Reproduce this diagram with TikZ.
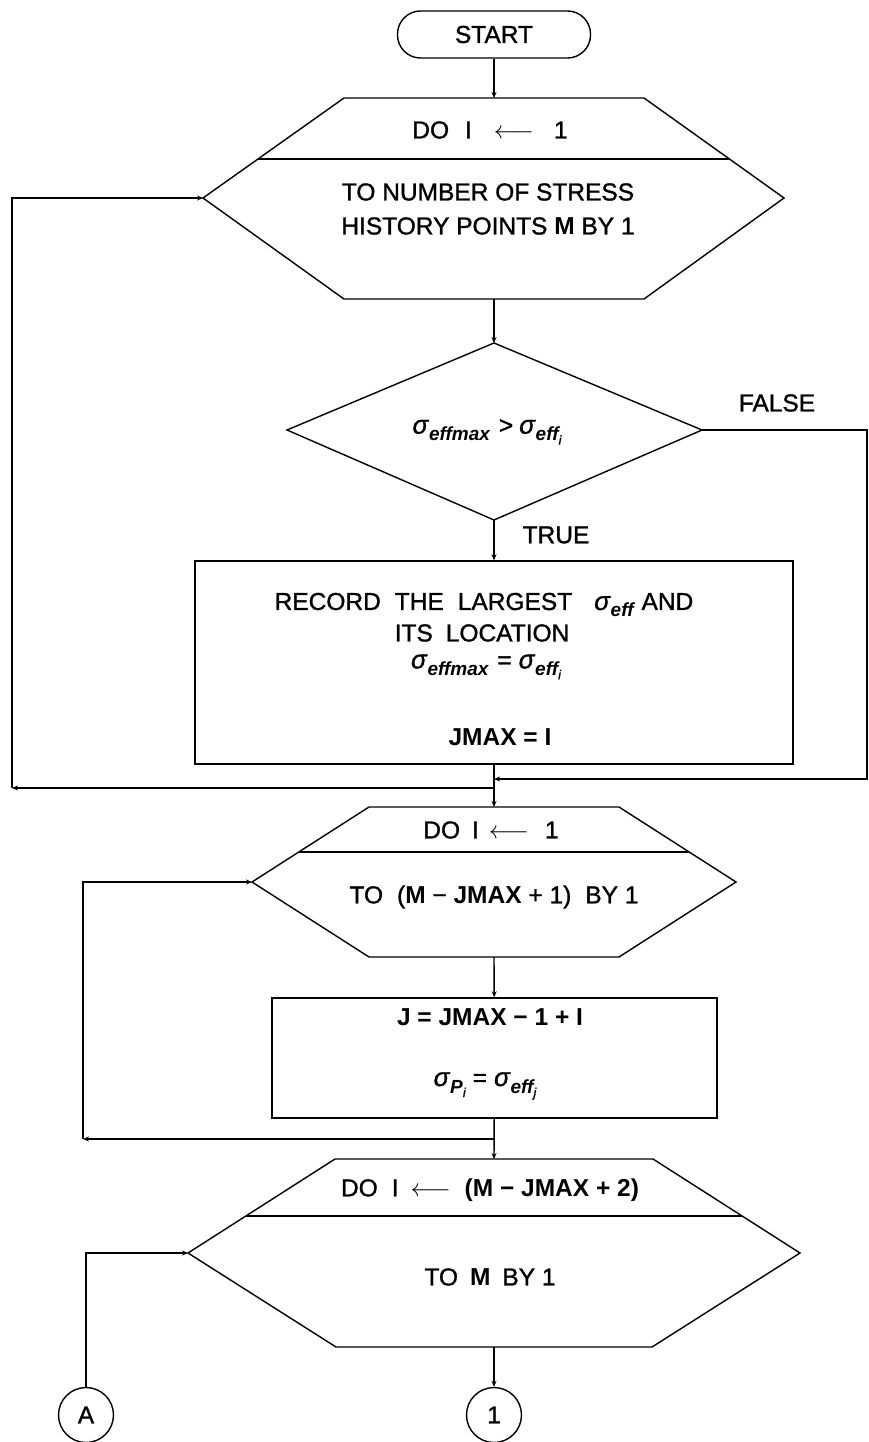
\documentclass[tikz,border=0pt]{standalone}
\usepackage{fontspec}
\setmainfont{Liberation Sans}[UprightFeatures={FakeBold=1.2},ItalicFeatures={FakeBold=1.2}]
\usetikzlibrary{arrows.meta,calc}
\newcommand\sig[1]{{\fontsize{26}{30}\selectfont\textit{σ}}\raisebox{-7pt}{\fontsize{19}{20}\selectfont\bfseries\itshape #1}}
\newcommand\sigi[2]{{\fontsize{26}{30}\selectfont\textit{σ}}\raisebox{-7pt}{\fontsize{19}{20}\selectfont\bfseries\itshape #1\raisebox{-4pt}{\fontsize{13}{13}\selectfont\mdseries #2}}}
\begin{document}
\begin{tikzpicture}[x=1pt,y=-1pt,line width=1.4pt,
  arr/.style={-{Stealth[length=6pt,width=5pt]}},
  lbl/.style={font=\fontsize{24.5}{34}\selectfont,inner sep=0pt,align=center},
  term/.style={draw,rounded corners=23pt,minimum width=193pt,minimum height=47pt,inner sep=0pt},
  procbox/.style={draw,inner sep=0pt},
  conn/.style={draw,circle,minimum size=55pt,inner sep=0pt,font=\fontsize{24.5}{29}\selectfont}]
\useasboundingbox (0,0) rectangle (868,1442);

% terminal
\node[term,lbl] (start) at (494,34.5) {START};

% loop hexagon 1
\coordinate (h1tl) at (344,98);  \coordinate (h1tr) at (644,98);
\coordinate (h1l) at (203,198);  \coordinate (h1r) at (784,198);
\coordinate (h1bl) at (344,299); \coordinate (h1br) at (644,299);
\coordinate (h1t) at (494,98);   \coordinate (h1b) at (494,299);
\draw (h1tl) -- (h1tr) -- (h1r) -- (h1br) -- (h1bl) -- (h1l) -- cycle;
\draw ($(h1tl)!0.61!(h1l)$) -- ($(h1tr)!0.61!(h1r)$);
\node[lbl] (t1a) at (490,130) {DO\hspace{16pt}I\hspace{22pt}$\longleftarrow$\hspace{20pt}1};
\node[lbl] (t1b) at (488,209) {TO NUMBER OF STRESS\\HISTORY POINTS \textbf{M} BY 1};

% decision
\coordinate (dt) at (494,343); \coordinate (dl) at (287,430);
\coordinate (dr) at (702,430); \coordinate (db) at (494,520);
\draw (dt) -- (dr) -- (db) -- (dl) -- cycle;
\node[lbl] (dtx) at (487,432) {\sig{effmax}\hspace{9pt}>\hspace{6pt}\sigi{eff}{i}};
\node[lbl] (lfalse) at (777,403) {FALSE};
\node[lbl] (ltrue) at (556,535) {TRUE};

% box 1
\node[procbox,minimum width=598pt,minimum height=203pt] (b1) at (494,662.5) {};
\node[lbl] (r1) at (484,605) {RECORD\hspace{14pt}THE\hspace{14pt}LARGEST\hspace{22pt}\sig{eff}\hspace{8pt}AND};
\node[lbl] (r2) at (482,633) {ITS\hspace{13pt}LOCATION};
\node[lbl] (r3) at (486,667) {\sig{effmax}\hspace{9pt}=\hspace{7pt}\sigi{eff}{i}};
\node[lbl] (r4) at (500,737) {\textbf{JMAX = I}};

% loop hexagon 2
\coordinate (h2tl) at (369,807);  \coordinate (h2tr) at (619,807);
\coordinate (h2l) at (252,882);   \coordinate (h2r) at (736,882);
\coordinate (h2bl) at (369,957);  \coordinate (h2br) at (619,957);
\coordinate (h2t) at (494,807);   \coordinate (h2b) at (494,957);
\draw (h2tl) -- (h2tr) -- (h2r) -- (h2br) -- (h2bl) -- (h2l) -- cycle;
\draw ($(h2tl)!0.6!(h2l)$) -- ($(h2tr)!0.6!(h2r)$);
\node[lbl] (t2a) at (491,830) {DO\hspace{12pt}I\hspace{10pt}$\longleftarrow$\hspace{16pt}1};
\node[lbl] (t2b) at (494,897) {TO\hspace{14pt}(\textbf{M} − \textbf{JMAX} + 1)\hspace{14pt}BY 1};

% box 2
\node[procbox,minimum width=445pt,minimum height=120pt] (b2) at (494.5,1058) {};
\node[lbl] (b2a) at (490,1017) {\textbf{J = JMAX − 1 + I}};
\node[lbl] (b2b) at (485,1086) {\sigi{P}{i}\hspace{7pt}=\hspace{7pt}\sigi{eff}{j}};

% loop hexagon 3
\coordinate (h3tl) at (335,1159);  \coordinate (h3tr) at (653,1159);
\coordinate (h3l) at (188,1253);   \coordinate (h3r) at (800,1253);
\coordinate (h3bl) at (336,1347);  \coordinate (h3br) at (652,1347);
\coordinate (h3t) at (494,1159);   \coordinate (h3b) at (494,1347);
\draw (h3tl) -- (h3tr) -- (h3r) -- (h3br) -- (h3bl) -- (h3l) -- cycle;
\draw ($(h3tl)!0.606!(h3l)$) -- ($(h3tr)!0.606!(h3r)$);
\node[lbl] (t3a) at (490,1190) {DO\hspace{14pt}I\hspace{12pt}$\longleftarrow$\hspace{14pt}\textbf{(M − JMAX + 2)}};
\node[lbl] (t3b) at (490,1277) {TO\hspace{12pt}\textbf{M}\hspace{12pt}BY 1};

% connectors
\node[conn] (cA) at (86,1415) {A};
\node[conn] (c1) at (494,1415) {1};

\coordinate (j1) at (494,779);  \coordinate (j2) at (494,788);
\coordinate (fr) at (867,430);  \coordinate (fr2) at (867,779);
\coordinate (lc) at (12,788);   \coordinate (lt) at (12,198);
\coordinate (j3) at (494,1139); \coordinate (l2c) at (83,1139); \coordinate (l2t) at (83,882);
\coordinate (l3t) at (86,1253);

\draw[arr] (start) -- (h1t);
\draw[arr] (h1b) -- (dt);
\draw[arr] (db) -- (b1);
\draw[arr] (b1) -- (h2t);
\draw[arr] (dr) -- (fr) -- (fr2) -- (j1);
\draw[arr] (j2) -- (lc);
\draw[arr] (lc) -- (lt) -- (h1l);
\draw[arr] (h2b) -- (b2);
\draw[arr] (b2) -- (h3t);
\draw[arr] (j3) -- (l2c);
\draw[arr] (l2c) -- (l2t) -- (h2l);
\draw[arr] (h3b) -- (c1);
\draw[arr] (cA) -- (l3t) -- (h3l);
\end{tikzpicture}
\end{document}
